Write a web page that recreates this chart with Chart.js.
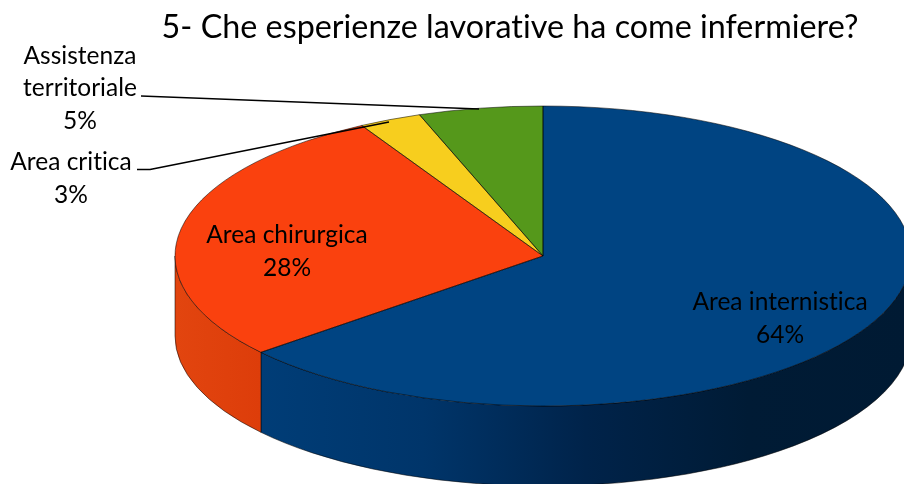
<!DOCTYPE html>
<html><head><meta charset="utf-8">
<style>html,body{margin:0;padding:0;background:#fff}#w{width:904px;height:484px}</style>
<script src="https://cdn.jsdelivr.net/npm/chart.js@4"></script></head>
<body><div id="w"><canvas id="c" width="904" height="484"></canvas></div>
<script>
const titleText = '5- Che esperienze lavorative ha come infermiere?';
const categories = ['Area internistica','Area chirurgica','Area critica','Assistenza territoriale'];
const values = [63.9,27.9,2.75,5.45];
const sliceColors = ['#004482','#fa410e','#f7ce1e','#55981b'];
const wallStops = [['#003d77','#00356a','#00234a','#001b35','#001a33'],['#e2450f','#dd3d0a'],['#c9a815'],['#457c15']];

const FONT = 'Lato, "Open Sans", sans-serif';
const PIE = {cx:543, cy:256, rx:368, ry:150, depth:80};
const labelBoxes = [
  {lines:['Area internistica','64%'], x:780, y:[302,335]},
  {lines:['Area chirurgica','28%'], x:287, y:[235,268]},
  {lines:['Area critica','3%'], x:71, y:[162,195]},
  {lines:['Assistenza','territoriale','5%'], x:80, y:[56,88,121]}
];
const leaders = [
  [[137,169.5],[150,169.5],[389,122]],
  [[141,96],[479,109]]
];

const ellipsePlugin = {
  id:'ellipse3d',
  beforeDraw(chart){ chart.ctx.letterSpacing='0.01px'; },
  beforeDatasetsDraw(chart){
    const ctx = chart.ctx, arcs = chart.getDatasetMeta(0).data, P = PIE;
    const wallX = a => P.cx + P.rx*Math.cos(a), wallY = a => P.cy + P.ry*Math.sin(a);
    // side wall: visible part of each slice's rim (front half of the ellipse)
    arcs.forEach((arc,i)=>{
      const s = Math.max(arc.startAngle,0), e = Math.min(arc.endAngle,Math.PI);
      if(e<=s) return;
      const x0 = wallX(e), x1 = wallX(s);
      const g = ctx.createLinearGradient(x0,0,Math.max(x1,x0+1),0);
      const st = wallStops[i];
      st.forEach((c,k)=>g.addColorStop(st.length>1?k/(st.length-1):0,c));
      ctx.beginPath();
      ctx.ellipse(P.cx,P.cy,P.rx,P.ry,0,s,e);
      ctx.lineTo(wallX(e),wallY(e)+P.depth);
      ctx.ellipse(P.cx,P.cy+P.depth,P.rx,P.ry,0,e,s,true);
      ctx.closePath();
      ctx.fillStyle = g; ctx.fill();
      ctx.strokeStyle='rgba(0,0,0,.65)'; ctx.lineWidth=0.8; ctx.stroke();
    });
    // top face: the library's arcs, stretched into an ellipse
    const a0 = arcs[0];
    ctx.save();
    ctx.translate(P.cx,P.cy);
    ctx.scale(P.rx/a0.outerRadius,P.ry/a0.outerRadius);
    ctx.translate(-a0.x,-a0.y);
  },
  afterDatasetsDraw(chart){
    const ctx = chart.ctx, arcs = chart.getDatasetMeta(0).data, P = PIE;
    ctx.restore();
    ctx.strokeStyle='rgba(0,0,0,.65)'; ctx.lineWidth=0.8;
    arcs.forEach(arc=>{
      ctx.beginPath();
      ctx.moveTo(P.cx,P.cy);
      ctx.ellipse(P.cx,P.cy,P.rx,P.ry,0,arc.startAngle,arc.endAngle);
      ctx.closePath(); ctx.stroke();
    });
    ctx.strokeStyle='#000'; ctx.lineWidth=1.6; ctx.lineJoin='round';
    leaders.forEach(l=>{
      ctx.beginPath();
      l.forEach((p,i)=>i?ctx.lineTo(p[0],p[1]):ctx.moveTo(p[0],p[1]));
      ctx.stroke();
    });
    ctx.fillStyle='#000'; ctx.font='24.5px '+FONT; ctx.textAlign='center'; ctx.textBaseline='middle';
    labelBoxes.forEach(b=>b.lines.forEach((t,i)=>ctx.fillText(t,b.x,b.y[i])));
  }
};

new Chart(document.getElementById('c'),{
  type:'pie',
  data:{labels:categories,datasets:[{data:values,backgroundColor:sliceColors,borderWidth:0,radius:100}]},
  options:{
    responsive:false,animation:false,
    layout:{padding:{left:116,top:8,bottom:20}},
    plugins:{
      legend:{display:false},tooltip:{enabled:false},
      title:{display:true,text:titleText,color:'#000',font:{family:FONT,size:32.3,weight:'normal'},padding:{top:0,bottom:4}}
    }
  },
  plugins:[ellipsePlugin]
});
</script></body></html>
